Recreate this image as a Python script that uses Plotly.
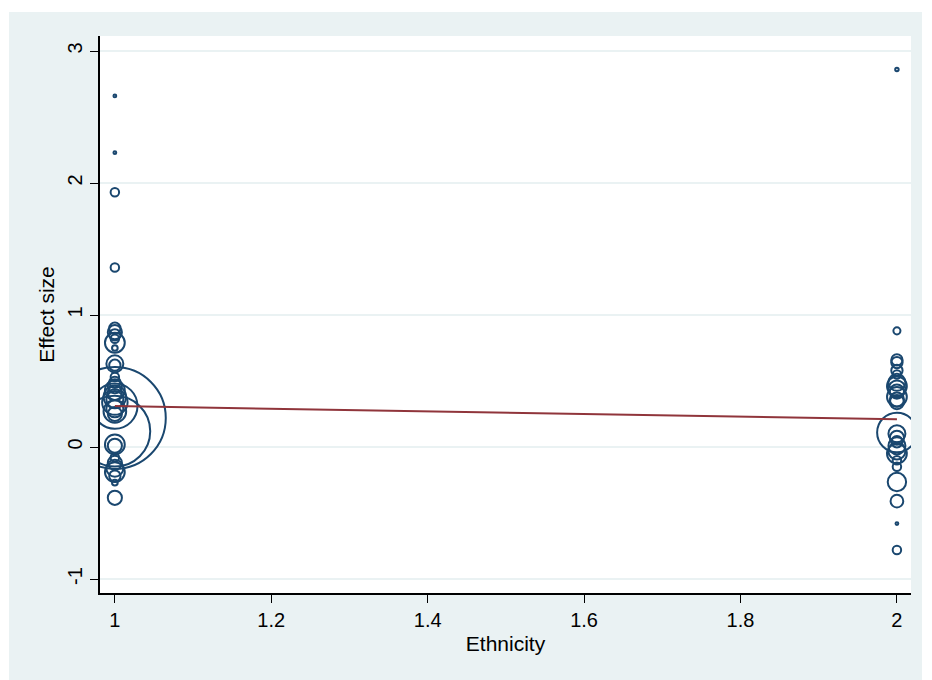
import plotly.graph_objects as go

# Effect sizes by ethnicity group (1, 2) and their study weights
eth1_es = [2.66, 2.23, 1.93, 1.36, 0.90, 0.87, 0.85, 0.82, 0.79, 0.75, 0.63, 0.62,
           0.53, 0.49, 0.46, 0.43, 0.41, 0.38, 0.36, 0.34, 0.31, 0.29, 0.27, 0.25,
           0.22, 0.12, 0.02, 0.01, -0.08, -0.12, -0.16, -0.19, -0.22, -0.27, -0.385]
eth1_w = [1, 1, 9, 9, 16, 25, 16, 9, 49, 4, 36, 16,
          9, 16, 25, 49, 25, 64, 36, 81, 256, 36, 64, 25,
          1296, 625, 49, 25, 9, 25, 36, 49, 16, 4, 25]

eth2_es = [2.86, 0.88, 0.66, 0.64, 0.58, 0.55, 0.49, 0.46, 0.44, 0.42, 0.38, 0.36,
           0.34, 0.11, 0.10, 0.07, 0.04, 0.01, -0.03, -0.05, -0.10, -0.15, -0.265,
           -0.41, -0.58, -0.78]
eth2_w = [1.5, 6.25, 16, 16, 16, 9, 36, 49, 36, 25, 49, 25,
          25, 196, 36, 25, 16, 36, 36, 49, 9, 9, 42.25,
          20.25, 1, 9]

# Meta-regression fitted line
fit_x = [1, 2]
fit_y = [0.31, 0.21]

x_ticks = [1, 1.2, 1.4, 1.6, 1.8, 2]
x_tick_text = ["1", "1.2", "1.4", "1.6", "1.8", "2"]
y_ticks = [-1, 0, 1, 2, 3]
y_tick_text = ["-1", "0", "1", "2", "3"]

NAVY = "#1a476f"
MAROON = "#90353b"
BG = "#eaf2f3"
FONT = "Liberation Sans, Arial, sans-serif"

fig = go.Figure()

for grp, es, w in [(1, eth1_es, eth1_w), (2, eth2_es, eth2_w)]:
    fig.add_trace(go.Scatter(
        x=[grp] * len(es), y=es, mode="markers",
        marker=dict(symbol="circle-open", size=w, sizemode="area", sizeref=0.25,
                    opacity=1, color=NAVY, line=dict(width=2, color=NAVY)),
        showlegend=False, hoverinfo="x+y",
    ))

fig.add_trace(go.Scatter(
    x=fit_x, y=fit_y, mode="lines",
    line=dict(color=MAROON, width=2), showlegend=False,
))

# outer graph region (light fill with thin white border)
L, R, T, B = 100, 21, 36, 87
W, H = 932, 680
pw, ph = W - L - R, H - T - B
fig.add_shape(type="rect", xref="paper", yref="paper", layer="below",
              x0=(9 - L) / pw, x1=(922 - L) / pw,
              y0=(H - B - 680) / ph, y1=(H - B - 12) / ph,
              fillcolor=BG, line=dict(width=0))
fig.add_shape(type="rect", xref="paper", yref="paper", layer="below",
              x0=0, x1=1, y0=0, y1=1, fillcolor="white", line=dict(width=0))

fig.update_layout(
    width=W, height=H,
    margin=dict(l=L, r=R, t=T, b=B),
    paper_bgcolor="white", plot_bgcolor="rgba(0,0,0,0)",
    font=dict(family=FONT, size=20, color="black"),
    xaxis=dict(
        range=[0.981, 2.018], tickvals=x_ticks, ticktext=x_tick_text,
        showgrid=False, zeroline=False, showline=True, linecolor="black", linewidth=1.5,
        ticks="outside", ticklen=8, tickwidth=1.2, tickcolor="black",
        tickfont=dict(size=20),
        title=dict(text="Ethnicity", font=dict(size=21), standoff=7),
    ),
    yaxis=dict(
        range=[-1.106, 3.114], tickvals=y_ticks, ticktext=y_tick_text, tickangle=-90,
        showgrid=True, gridcolor=BG, gridwidth=2, zeroline=False,
        showline=True, linecolor="black", linewidth=1.5,
        ticks="outside", ticklen=8, tickwidth=1.2, tickcolor="black",
        tickfont=dict(size=20),
        title=dict(text="Effect size", font=dict(size=21), standoff=4),
    ),
)

fig.write_html("out.html")
